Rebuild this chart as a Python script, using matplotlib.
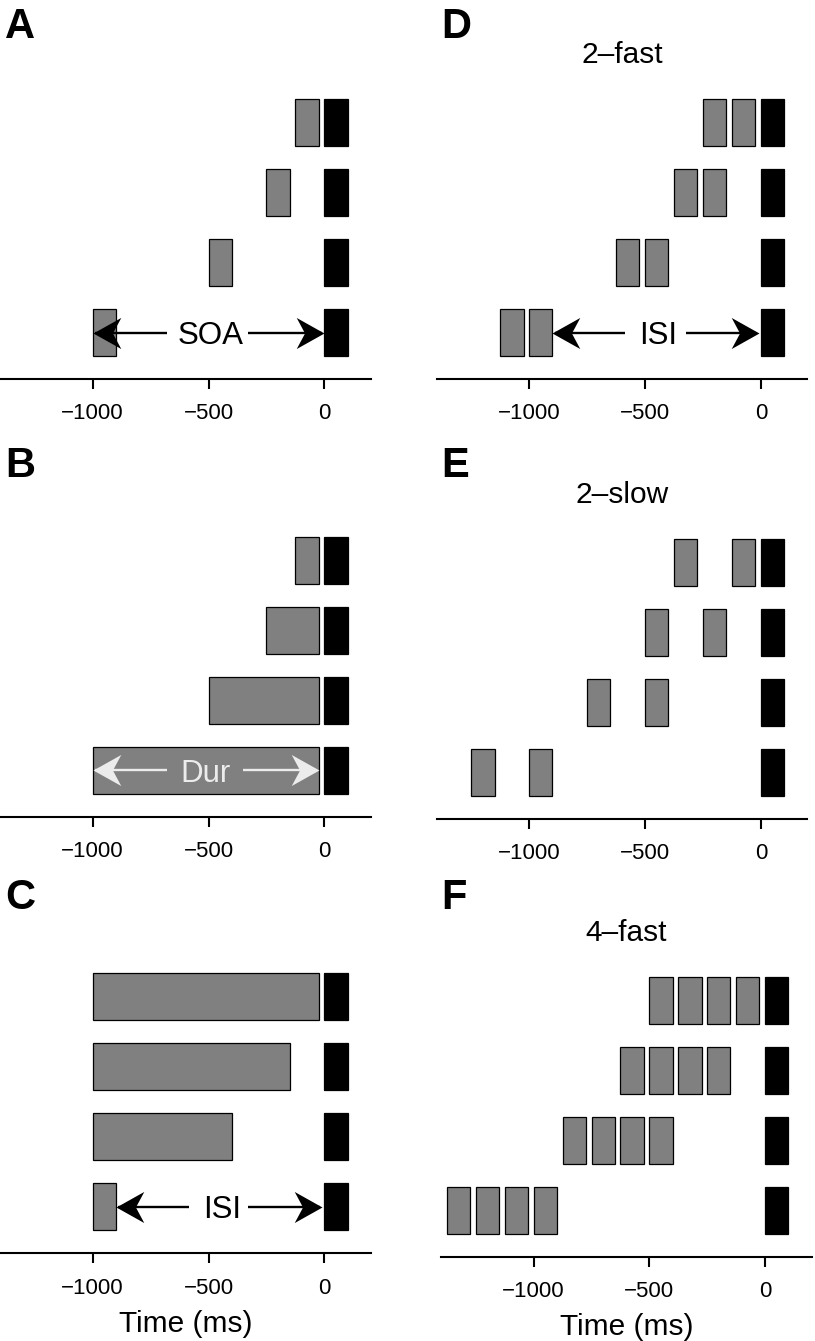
import numpy as np
import matplotlib
matplotlib.use("Agg")
import matplotlib.pyplot as plt
from matplotlib.path import Path

plt.rcParams['font.family'] = ['Liberation Sans', 'DejaVu Sans']

# ---------------- data (ms relative to target onset) ----------------
row_y = [4, 3, 2, 1]                      # top row -> bottom row
target_on, target_dur = 0, 100
flash_dur = 100

A_onsets = [-125, -250, -500, -1000]      # single flash, fixed duration
B_onsets = [-125, -250, -500, -1000]      # variable duration, offset fixed
B_offset = -25
C_onset = -1000                           # fixed onset, variable offset
C_offsets = [-25, -150, -400, -900]
D_onsets = [[-250, -125], [-375, -250], [-625, -500], [-1125, -1000]]        # 2-fast
E_onsets = [[-375, -125], [-500, -250], [-750, -500], [-1250, -1000]]        # 2-slow
F_onsets = [[-500, -375, -250, -125], [-625, -500, -375, -250],
            [-875, -750, -625, -500], [-1375, -1250, -1125, -1000]]          # 4-fast

panel_letters = ['A', 'B', 'C', 'D', 'E', 'F']
panel_titles = ['', '', '', '2–fast', '2–slow', '4–fast']
xticks = [-1000, -500, 0]
xticklabels = ['−1000', '−500', '0']
xlim = (-1400, 200)
ylim = (0.336, 4.6)
xlabel = 'Time (ms)'

# annotation arrows: label, colour, left tip, right tip, left line end, right line end, text x
arrow_A = ('SOA', 'black', -1000, 0, -678, -329, -489)
arrow_B = ('Dur', '#ececec', -1000, -25, -678, -351, -515)
arrow_C = ('ISI', 'black', -900, -10, -583, -329, -442)
arrow_D = ('ISI', 'black', -900, -10, -587, -324, -443)

# ---------------- build segments ----------------
def single(onsets, dur):
    return [[(o, o + dur)] for o in onsets]

segs = {
    'A': single(A_onsets, flash_dur),
    'B': [[(o, B_offset)] for o in B_onsets],
    'C': [[(C_onset, off)] for off in C_offsets],
    'D': [[(o, o + flash_dur) for o in r] for r in D_onsets],
    'E': [[(o, o + flash_dur) for o in r] for r in E_onsets],
    'F': [[(o, o + flash_dur) for o in r] for r in F_onsets],
}
arrows = {'A': arrow_A, 'B': arrow_B, 'C': arrow_C, 'D': arrow_D}

# ---------------- layout (pixels) ----------------
W, H = 815, 1341
fig = plt.figure(figsize=(W / 100, H / 100), dpi=100)
row_px = 70.0
ax_h = (ylim[1] - ylim[0]) * row_px
pos_px = {  # left, right, spine y
    'A': (0.0, 370.7, 379.0),
    'B': (0.0, 370.7, 816.7),
    'C': (0.0, 370.7, 1253.3),
    'D': (436.6, 807.4, 379.0),
    'E': (436.6, 807.4, 819.0),
    'F': (441.0, 811.5, 1256.7),
}
letter_px = {'A': (5, 38.5), 'B': (5, 477.3), 'C': (5, 909.3),
             'D': (441, 38.5), 'E': (441, 477.3), 'F': (441, 909.3)}

# stealth-like arrowhead marker (tip at origin)
head_r = Path([(0, 0), (-1, 0.56), (-0.7, 0), (-1, -0.56), (0, 0)],
              [Path.MOVETO, Path.LINETO, Path.LINETO, Path.LINETO, Path.CLOSEPOLY])
head_l = Path([(0, 0), (1, 0.56), (0.7, 0), (1, -0.56), (0, 0)],
              [Path.MOVETO, Path.LINETO, Path.LINETO, Path.LINETO, Path.CLOSEPOLY])

bar_h = 0.67
for key, letter, title in zip(['A', 'B', 'C', 'D', 'E', 'F'], panel_letters, panel_titles):
    l, r, sy = pos_px[key]
    ax = fig.add_axes([l / W, (H - sy) / H, (r - l) / W, ax_h / H])
    for y, row in zip(row_y, segs[key]):
        for (s, e) in row:
            ax.barh(y, e - s, left=s, height=bar_h, color='#808080',
                    edgecolor='black', linewidth=0.9, zorder=2)
        ax.barh(y, target_dur, left=target_on, height=bar_h, color='black',
                edgecolor='black', linewidth=0.9, zorder=2)
    if key in arrows:
        txt, col, tl, tr, el, er, tx = arrows[key]
        yb = row_y[-1]
        ax.plot([tl + 10, el], [yb, yb], color=col, lw=1.7, zorder=3, solid_capstyle='butt')
        ax.plot([er, tr - 10], [yb, yb], color=col, lw=1.7, zorder=3, solid_capstyle='butt')
        ax.plot([tl], [yb], marker=head_l, markersize=40, color=col, mew=0, zorder=4)
        ax.plot([tr], [yb], marker=head_r, markersize=40, color=col, mew=0, zorder=4)
        ax.text(tx, yb, txt, color=col, fontsize=22.5, ha='center', va='center_baseline', zorder=5)
    ax.set_xlim(*xlim)
    ax.set_ylim(*ylim)
    ax.set_xticks(xticks)
    ax.set_xticklabels(xticklabels)
    ax.set_yticks([])
    for s in ['top', 'right', 'left']:
        ax.spines[s].set_visible(False)
    ax.spines['bottom'].set_linewidth(1.5)
    ax.tick_params(axis='x', direction='out', length=7, width=1.5, labelsize=16, pad=10.5)
    ax.patch.set_alpha(0)
    if title:
        ax.set_title(title, fontsize=21.5, pad=12.5)
    if key in ('C', 'F'):
        ax.set_xlabel(xlabel, fontsize=21.5, labelpad=8)
    lx, ly = letter_px[key]
    fig.text(lx / W, (H - ly) / H, letter, fontsize=30, fontweight='bold',
             ha='left', va='baseline')

fig.savefig('out.png', dpi=100)
